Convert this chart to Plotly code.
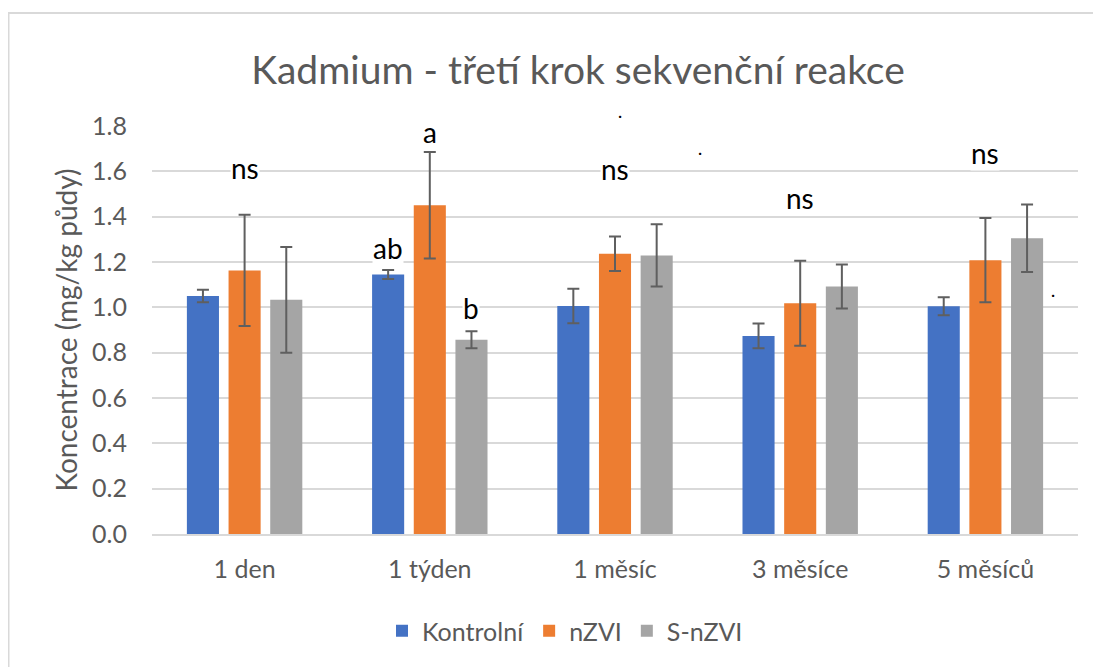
import plotly.graph_objects as go

categories = ["1 den", "1 týden", "1 měsíc", "3 měsíce", "5 měsíců"]
series_names = ["Kontrolní", "nZVI", "S-nZVI"]
kontrolni = [1.05, 1.145, 1.006, 0.874, 1.005]
kontrolni_err = [0.028, 0.02, 0.076, 0.055, 0.04]
nzvi = [1.163, 1.450, 1.236, 1.018, 1.208]
nzvi_err = [0.245, 0.235, 0.076, 0.188, 0.186]
snzvi = [1.033, 0.857, 1.229, 1.092, 1.305]
snzvi_err = [0.233, 0.037, 0.137, 0.097, 0.149]
colors = ["#4472C4", "#ED7D31", "#A5A5A5"]

# significance labels: (category, series index for x offset, y value, text)
sig_cats = ["1 den", "1 týden", "1 týden", "1 týden", "1 měsíc", "3 měsíce", "5 měsíců"]
sig_series = [1, 0, 1, 2, 1, 1, 1]
sig_y = [1.614, 1.263, 1.772, 0.997, 1.609, 1.483, 1.68]
sig_text = ["ns", "ab", "a", "b", "ns", "ns", "ns"]

font = "Lato, Calibri, Carlito, sans-serif"
grey_text = "#595959"

fig = go.Figure()
for name, vals, errs, col in zip(series_names, [kontrolni, nzvi, snzvi],
                                 [kontrolni_err, nzvi_err, snzvi_err], colors):
    fig.add_trace(go.Bar(
        name=name, x=categories, y=vals, marker=dict(color=col, line=dict(width=0)),
        error_y=dict(type="data", array=errs, visible=True, color="#5f5f5f",
                     thickness=2, width=6),
    ))

bargap = 0.325
slot = (1 - bargap) / 3
offsets = [-slot, 0.0, slot]

OFF = 8  # page body margin
W, H = 1101, 667
L, R, T, B = 152 - OFF, 1078 - OFF, 126 - OFF, 534.3 - OFF
pw, ph = R - L, B - T


def px2paper_x(px):
    return (px - L) / pw


def px2paper_y(py):
    return (B - py) / ph


annotations = []
for c, s, y, t in zip(sig_cats, sig_series, sig_y, sig_text):
    xi = categories.index(c) + offsets[s]
    annotations.append(dict(x=xi, y=y, xref="x", yref="y", text=t, showarrow=False,
                            font=dict(family=font, size=28, color="#000000"),
                            yanchor="middle", xanchor="center", bgcolor="white",
                            borderpad=0))

# stray dots present in the reference
for px, py in [(620, 114.7), (700, 151.7), (1053, 294)]:
    annotations.append(dict(x=px2paper_x(px - OFF), y=px2paper_y(py - OFF),
                            xref="paper", yref="paper", text="·", showarrow=False,
                            font=dict(family=font, size=16, color="#000000"),
                            xanchor="center", yanchor="middle"))

fig.update_layout(
    width=W, height=H,
    margin=dict(l=L, r=W - R, t=T, b=H - B, pad=0, autoexpand=False),
    paper_bgcolor="white", plot_bgcolor="white",
    barmode="group", bargap=bargap, bargroupgap=0.23,
    title=dict(text="Kadmium - třetí krok sekvenční reakce", x=(578 - OFF) / W, xanchor="center",
               y=1 - (70 - OFF) / H, yanchor="middle", xref="container", yref="container",
               font=dict(family=font, size=39, color=grey_text)),
    font=dict(family=font, color=grey_text),
    showlegend=True,
    legend=dict(orientation="h", x=(565 - OFF) / W, xanchor="center", xref="container",
                y=1 - (631 - OFF) / H, yanchor="middle", yref="container",
                font=dict(family=font, size=25, color=grey_text),
                itemwidth=30, traceorder="normal", bgcolor="rgba(0,0,0,0)"),
    xaxis=dict(type="category", categoryorder="array", categoryarray=categories,
               showgrid=False, showline=True, linecolor="#d9d9d9", linewidth=1.5,
               ticks="", tickfont=dict(family=font, size=25, color=grey_text),
               ticklabelstandoff=12),
    yaxis=dict(range=[0, 1.8], dtick=0.2, tickformat=".1f", showgrid=True,
               gridcolor="#d9d9d9", gridwidth=1.5, zeroline=False, showline=False,
               ticks="", tickfont=dict(family=font, size=25, color=grey_text),
               ticklabelstandoff=24,
               title=dict(text="Koncentrace (mg/kg půdy)", standoff=6,
                          font=dict(family=font, size=28, color=grey_text))),
    annotations=annotations,
    shapes=[dict(type="rect", xref="paper", yref="paper",
                 x0=px2paper_x(0.5), x1=px2paper_x(1200), y0=px2paper_y(800), y1=px2paper_y(13 - OFF),
                 line=dict(color="#d9d9d9", width=2), layer="below")],
)

fig.write_html("out.html")
